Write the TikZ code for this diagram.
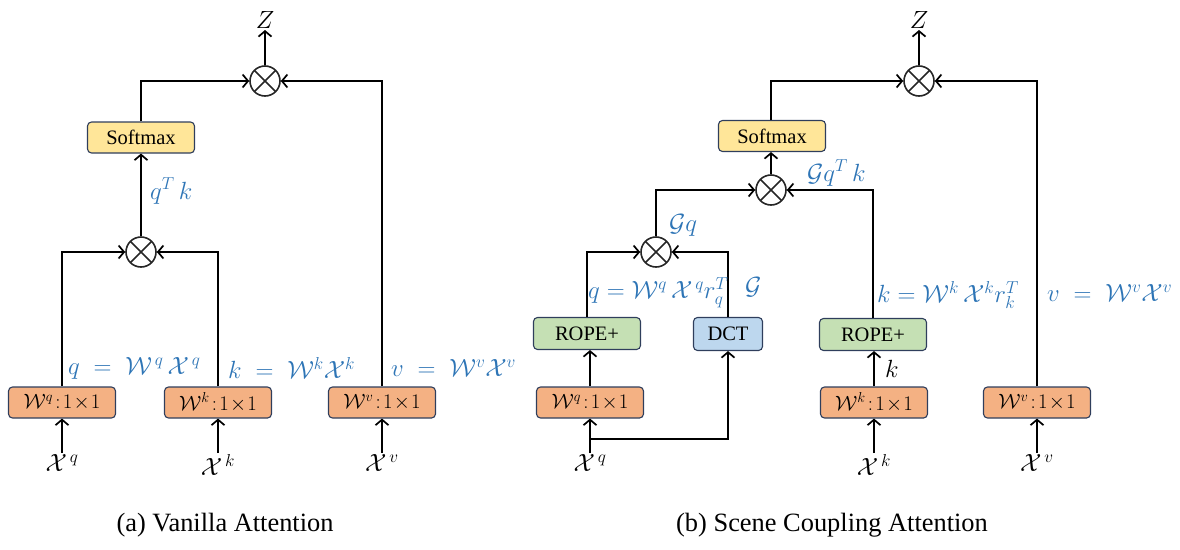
\documentclass[tikz,border=0pt]{standalone}
\usepackage{fontspec}
\setmainfont{Liberation Serif}
\usetikzlibrary{arrows.meta}

\definecolor{eqblue}{RGB}{46,117,182}
\definecolor{edgenavy}{RGB}{47,62,92}
\definecolor{projfill}{RGB}{244,177,131}
\definecolor{softfill}{RGB}{255,230,153}
\definecolor{ropefill}{RGB}{197,224,180}
\definecolor{dctfill}{RGB}{189,215,238}

% 1x1 projection label, e.g. W^q:1x1
\newcommand{\projlabel}[1]{$\mathcal{W}^{#1}\!:\!1\!\times\!1$}

\tikzset{
  flow/.style={line width=1.7pt, -{Straight Barb[length=5.5pt,width=13pt,line width=1.7pt]}},
  blockbox/.style={draw=edgenavy, line width=1.1pt, rounded corners=4pt,
    minimum width=107pt, minimum height=31pt, inner sep=0pt, anchor=center},
  proj/.style={blockbox, fill=projfill, font=\fontsize{22}{25}\selectfont},
  soft/.style={blockbox, fill=softfill, font=\fontsize{20.5}{24}\selectfont},
  rope/.style={blockbox, fill=ropefill, minimum height=32pt, font=\fontsize{20.5}{24}\selectfont},
  dctbox/.style={blockbox, fill=dctfill, minimum width=69pt, minimum height=33pt, font=\fontsize{20.5}{24}\selectfont},
  mult/.style={circle, draw=black!85, line width=1.6pt, minimum size=30pt, inner sep=0pt,
    path picture={\draw[black!85, line width=1.6pt]
      (path picture bounding box.north west) -- (path picture bounding box.south east)
      (path picture bounding box.north east) -- (path picture bounding box.south west);}},
  eq/.style={text=eqblue, inner sep=0pt, anchor=west, font=\fontsize{23.5}{27}\selectfont},
  eqtight/.style={eq, font=\fontsize{23}{26}\selectfont},
  inp/.style={inner sep=1pt, anchor=north, font=\fontsize{26}{30}\selectfont},
  outp/.style={inner sep=1pt, anchor=south, font=\fontsize{24}{28}\selectfont},
  caption/.style={inner sep=0pt, font=\fontsize{26.4}{30}\selectfont}
}

\begin{document}
\begin{tikzpicture}[x=1pt, y=-1pt]
\path[use as bounding box] (0,0) rectangle (1180,549);

% ---------- (a) vanilla attention ----------
\node[proj] (wql) at (62,402.5) {\projlabel{q}};
\node[proj] (wkl) at (218,402.5) {\projlabel{k}};
\node[proj] (wvl) at (382,402.5) {\projlabel{v}};
\node[inp] (xql) at (62,453) {$\mathcal{X}^{\,q}$};
\node[inp] (xkl) at (218,453) {$\mathcal{X}^{\,k}$};
\node[inp] (xvl) at (382,453) {$\mathcal{X}^{\,v}$};
\node[mult] (ml1) at (141,252) {};
\node[soft] (sml) at (141,137.5) {Softmax};
\node[mult] (ml2) at (265,81) {};
\node[outp] (zl) at (265,30) {$Z$};

\draw[flow] (xql.north -| wql) -- (wql.south);
\draw[flow] (xkl.north -| wkl) -- (wkl.south);
\draw[flow] (xvl.north -| wvl) -- (wvl.south);
\draw[flow] (wql.north) |- (ml1.west);
\draw[flow] (wkl.north) |- (ml1.east);
\draw[flow] (ml1.north) -- (sml.south);
\draw[flow] (sml.north) |- (ml2.west);
\draw[flow] (wvl.north) |- (ml2.east);
\draw[flow] (ml2.north) -- (zl.south);

\node[eq] (lqk) at (150,191) {$q^{T}\,k$};
\node[eq] (lq) at (68,368) {$q\;=\;\mathcal{W}^{\,q}\,\mathcal{X}^{\,q}$};
\node[eq] (lk) at (228,368) {$k\;=\;\mathcal{W}^{k}\mathcal{X}^{k}$};
\node[eq] (lv) at (391,368) {$v\;=\;\mathcal{W}^{v}\mathcal{X}^{v}$};

\node[caption] (capa) at (225,525) {(a) Vanilla Attention};

% ---------- (b) scene coupling attention ----------
\node[proj] (wqr) at (590,402.5) {\projlabel{q}};
\node[proj] (wkr) at (874,402.5) {\projlabel{k}};
\node[proj] (wvr) at (1037,402.5) {\projlabel{v}};
\node[rope] (ropeq) at (587,333.5) {ROPE+};
\node[dctbox] (dct) at (728,334) {DCT};
\node[rope] (ropek) at (873,334.5) {ROPE+};
\node[inp] (xqr) at (590,453) {$\mathcal{X}^{\,q}$};
\node[inp] (xkr) at (874,453) {$\mathcal{X}^{\,k}$};
\node[inp] (xvr) at (1037,453) {$\mathcal{X}^{\,v}$};
\coordinate (split) at (590,439);
\node[mult] (mr1) at (656,252) {};
\node[mult] (mr2) at (771,190) {};
\node[soft] (smr) at (772,136) {Softmax};
\node[mult] (mr3) at (919,81) {};
\node[outp] (zr) at (919,30) {$Z$};

\draw[flow] (xqr.north -| wqr) -- (wqr.south);
\draw[flow] (split) -| (dct.south);
\draw[flow] (wqr.north) -- (wqr.north |- ropeq.south);
\draw[flow] (wkr.north) -- (wkr.north |- ropek.south)
  node[midway, right=7pt, text=black, font=\fontsize{24}{28}\selectfont] (klab) {$k$};
\draw[flow] (xkr.north -| wkr) -- (wkr.south);
\draw[flow] (xvr.north -| wvr) -- (wvr.south);
\draw[flow] (ropeq.north) |- (mr1.west);
\draw[flow] (dct.north) |- (mr1.east);
\draw[flow] (mr1.north) |- (mr2.west);
\draw[flow] (ropek.north) |- (mr2.east);
\draw[flow] (mr2.north) -- (mr2.north |- smr.south);
\draw[flow] (smr.north -| mr2) |- (mr3.west);
\draw[flow] (wvr.north) |- (mr3.east);
\draw[flow] (mr3.north) -- (zr.south);

\node[eq] (lgqk) at (807,173) {$\mathcal{G}q^{T}\,k$};
\node[eq] (lgq) at (669,225) {$\mathcal{G}q$};
\node[eqtight] (lqr) at (588,293) {$q = \mathcal{W}^{q}\,\mathcal{X}^{\,q} r_q^T$};
\node[eq] (lg) at (745,287) {$\mathcal{G}$};
\node[eqtight] (lkr) at (877,295) {$k = \mathcal{W}^{k}\,\mathcal{X}^{k} r_k^T$};
\node[eq] (lvr) at (1047,293) {$v\;=\;\mathcal{W}^{v}\mathcal{X}^{v}$};

\node[caption] (capb) at (832,525) {(b) Scene Coupling Attention};
\end{tikzpicture}
\end{document}
